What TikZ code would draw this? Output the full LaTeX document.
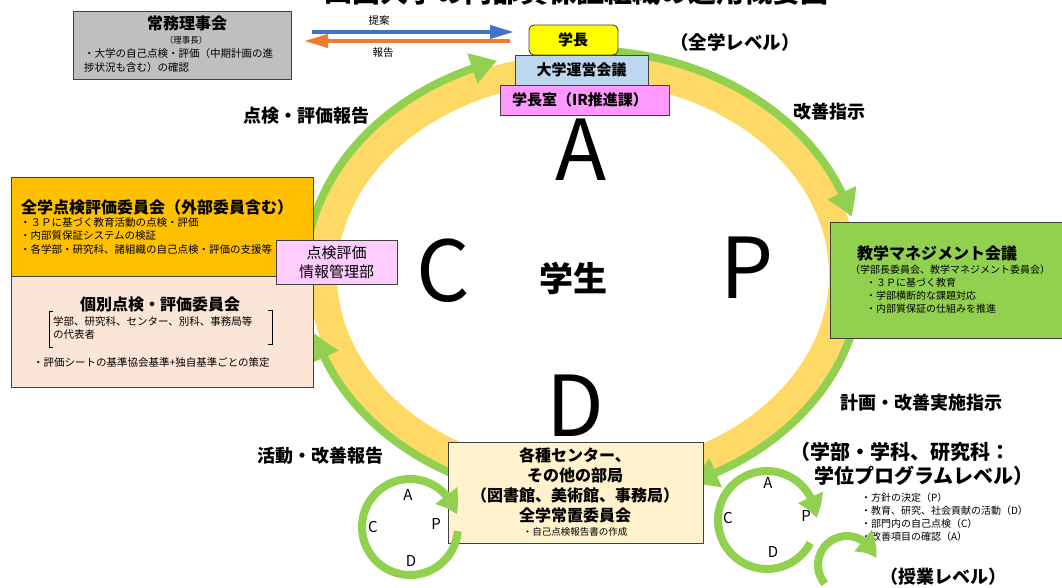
\documentclass[tikz,border=0pt]{standalone}
\usepackage{fontspec}
\setmainfont{Noto Sans CJK JP}
\usetikzlibrary{arrows.meta,bending}
\definecolor{ringY}{HTML}{FFD966}
\definecolor{arcG}{HTML}{92D050}
\definecolor{boxGray}{HTML}{BFBFBF}
\definecolor{boxOrange}{HTML}{FFC000}
\definecolor{boxPeach}{HTML}{FBE5D6}
\definecolor{boxBlue}{HTML}{BDD7EE}
\definecolor{boxMag}{HTML}{FF99FF}
\definecolor{boxPink}{HTML}{FFCCFF}
\definecolor{boxCream}{HTML}{FFF2CC}
\definecolor{boxYel}{HTML}{FFFF00}
\definecolor{arrBlue}{HTML}{4472C4}
\definecolor{arrOrange}{HTML}{ED7D31}
\definecolor{edgegray}{HTML}{404040}
\newcommand{\myfs}[1]{\fontsize{#1pt}{#1pt}\selectfont}
\begin{document}
\begin{tikzpicture}[x=1pt,y=1pt,
  box/.style={draw=edgegray, line width=0.9pt, inner sep=0pt, outer sep=0pt},
  txt/.style={inner sep=0pt, outer sep=0pt},
  garc/.style={draw=arcG, line width=8pt, -{Triangle[length=26pt,width=30pt,bend]}},
  sarc/.style={draw=arcG, line width=8pt, -{Triangle[length=22pt,width=26pt,bend]}},
  flat/.style={line width=4pt, -{Triangle[length=24pt,width=13pt]}},
  bigl/.style={txt, font=\myfs{84}},
  lbl/.style={txt, font=\bfseries\myfs{18}},
  small/.style={txt, font=\myfs{10.5}, anchor=west},
  pdca/.style={txt, font=\myfs{15}},
]
\useasboundingbox (0,0) rectangle (1062,-588);
\clip (0,0) rectangle (1062,-588);
\fill[white] (0,0) rectangle (1062,-588);

% title (cropped at the top edge)
\node[txt, anchor=base, font=\bfseries\myfs{28}] (title) at (576,-2.5) {四国大学の内部質保証組織の運用概要図};

% ring
\coordinate (ringc) at (583,-275);
\draw[ringY, line width=28pt] (ringc) ellipse [x radius=260, y radius=207];
\draw[garc] ([shift={(173:278 and 225)}]ringc) arc[start angle=173, end angle=108, x radius=278, y radius=225];
\draw[garc] ([shift={(88:278 and 225)}]ringc) arc[start angle=88, end angle=15, x radius=278, y radius=225];
\draw[garc] ([shift={(-15:278 and 225)}]ringc) arc[start angle=-15, end angle=-67, x radius=278, y radius=225];
\draw[garc] ([shift={(-118:278 and 225)}]ringc) arc[start angle=-118, end angle=-165, x radius=278, y radius=225];

% big letters
\node[bigl] (bigA) at (581,-150) {A};
\node[bigl] (bigC) at (443,-271) {C};
\node[bigl] (bigP) at (747,-268) {P};
\node[bigl] (bigD) at (575,-406) {D};
\node[txt, font=\bfseries\myfs{34}] (gakusei) at (573,-278) {学生};

% 常務理事会
\node[box, fill=boxGray, minimum width=218, minimum height=68] (joumu) at (182,-45) {};
\node[txt, font=\bfseries\myfs{16}] (joumuT) at (187,-23) {常務理事会};
\node[txt, font=\myfs{8.5}] (joumuS) at (186,-40) {（理事長）};
\node[small] (joumuB1) at (84,-54) {・大学の自己点検・評価（中期計画の進};
\node[small] (joumuB2) at (84,-68) {捗状況も含む）の確認};

\coordinate (propS) at (312,-32);
\coordinate (propE) at (514,-32);
\draw[flat, arrBlue] (propS) -- (propE);
\coordinate (repS) at (510,-41);
\coordinate (repE) at (304,-41);
\draw[flat, arrOrange] (repS) -- (repE);
\node[txt, font=\myfs{10.5}] (teian) at (379,-21) {提案};
\node[txt, font=\myfs{10.5}] (houkoku) at (383,-53) {報告};

% top boxes
\node[box, fill=boxYel, rounded corners=5pt, minimum width=89, minimum height=30] (gakucho) at (573.5,-40) {};
\node[txt, font=\bfseries\myfs{15}] (gakuchoT) at (573,-40) {学長};
\node[box, fill=boxBlue, minimum width=133, minimum height=30] (unei) at (581.5,-70) {};
\node[txt, font=\bfseries\myfs{15}] (uneiT) at (581.5,-70) {大学運営会議};
\node[box, fill=boxMag, minimum width=169, minimum height=30] (gakuchoshitsu) at (584.5,-100) {};
\node[txt, font=\bfseries\myfs{15}] (gakuchoshitsuT) at (580,-100) {学長室（IR推進課）};
\node[txt, font=\bfseries\myfs{18.5}] (zengaku) at (735,-42) {（全学レベル）};

% left boxes
\node[box, fill=boxOrange, minimum width=302, minimum height=99] (zenten) at (162,-226.5) {};
\node[txt, font=\bfseries\myfs{16}] (zentenT) at (157,-207) {全学点検評価委員会（外部委員含む）};
\node[small] (zentenB1) at (20,-223) {・３Ｐに基づく教育活動の点検・評価};
\node[small] (zentenB2) at (20,-236) {・内部質保証システムの検証};
\node[small] (zentenB3) at (20,-249.5) {・各学部・研究科、諸組織の自己点検・評価の支援等};
\node[box, fill=boxPeach, minimum width=302, minimum height=111] (kobetsu) at (162,-331.5) {};
\node[txt, font=\bfseries\myfs{16}] (kobetsuT) at (160,-304) {個別点検・評価委員会};
\node[small] (kobetsuB1) at (53,-322) {学部、研究科、センター、別科、事務局等};
\node[small] (kobetsuB2) at (53,-335) {の代表者};
\draw[line width=0.8pt] (53,-311) -- (49,-311) -- (49,-347) -- (53,-347);
\draw[line width=0.8pt] (268,-310) -- (272,-310) -- (272,-344) -- (268,-344);
\node[small] (kobetsuB3) at (33,-363) {・評価シートの基準協会基準+独自基準ごとの策定};

\node[box, fill=boxPink, minimum width=121, minimum height=44] (jouhou) at (336.5,-262) {};
\node[txt, font=\myfs{15}] (jouhouT1) at (336.5,-253) {点検評価};
\node[txt, font=\myfs{15}] (jouhouT2) at (336.5,-272) {情報管理部};

% right box
\node[box, fill=arcG, minimum width=236, minimum height=116] (kyogaku) at (948,-280) {};
\node[txt, font=\bfseries\myfs{16}] (kyogakuT) at (937,-253) {教学マネジメント会議};
\node[txt, font=\myfs{10}] (kyogakuS) at (950,-270) {（学部長委員会、教学マネジメント委員会）};
\node[txt, font=\myfs{10}, anchor=west] (kyogakuB1) at (866,-283) {・３Ｐに基づく教育};
\node[txt, font=\myfs{10}, anchor=west] (kyogakuB2) at (866,-296) {・学部横断的な課題対応};
\node[txt, font=\myfs{10}, anchor=west] (kyogakuB3) at (866,-309) {・内部質保証の仕組みを推進};

% bottom box
\node[box, fill=boxCream, minimum width=255, minimum height=101] (bumon) at (575.5,-492.5) {};
\node[txt, font=\bfseries\myfs{16}] (bumonT1) at (575,-455) {各種センター、};
\node[txt, font=\bfseries\myfs{16}] (bumonT2) at (575,-475) {その他の部局};
\node[txt, font=\bfseries\myfs{16}] (bumonT3) at (575,-495) {（図書館、美術館、事務局）};
\node[txt, font=\bfseries\myfs{16}] (bumonT4) at (575,-515) {全学常置委員会};
\node[txt, font=\myfs{9.5}] (bumonB) at (575,-532) {・自己点検報告書の作成};

% arrow labels
\node[lbl] (lblCA) at (306,-116) {点検・評価報告};
\node[lbl] (lblAP) at (829,-112) {改善指示};
\node[lbl] (lblPD) at (921,-403) {計画・改善実施指示};
\node[lbl] (lblDC) at (320,-456) {活動・改善報告};

% faculty level
\node[txt, font=\bfseries\myfs{20}] (gakubu1) at (900,-452) {（学部・学科、研究科：};
\node[txt, font=\bfseries\myfs{20}] (gakubu2) at (924,-476) {学位プログラムレベル）};
\node[txt, font=\myfs{10}, anchor=west] (gbB1) at (861,-498) {・方針の決定（P）};
\node[txt, font=\myfs{10}, anchor=west] (gbB2) at (861,-511) {・教育、研究、社会貢献の活動（D）};
\node[txt, font=\myfs{10}, anchor=west] (gbB3) at (861,-524) {・部門内の自己点検（C）};
\node[txt, font=\myfs{10}, anchor=west] (gbB4) at (861,-537) {・改善項目の確認（A）};
\node[txt, font=\bfseries\myfs{18}] (jugyo) at (943,-577) {（授業レベル）};

% small cycles
\coordinate (lc) at (410,-527);
\draw[sarc] ([shift={(-5:48)}]lc) arc[start angle=-5, end angle=-345, radius=48];
\node[pdca] (lA) at (408,-495) {A};
\node[pdca] (lC) at (373,-527) {C};
\node[pdca] (lP) at (436,-524) {P};
\node[pdca] (lD) at (411,-561) {D};

\coordinate (rc) at (767,-520);
\draw[sarc] ([shift={(-28:49)}]rc) arc[start angle=-28, end angle=-358, radius=49];
\node[pdca] (rA) at (768,-483) {A};
\node[pdca] (rC) at (728,-518) {C};
\node[pdca] (rP) at (806,-516) {P};
\node[pdca] (rD) at (773,-552) {D};

\coordinate (cc) at (847,-565);
\draw[sarc] ([shift={(-140:29)}]cc) arc[start angle=-140, end angle=-347, radius=29];
\end{tikzpicture}
\end{document}
